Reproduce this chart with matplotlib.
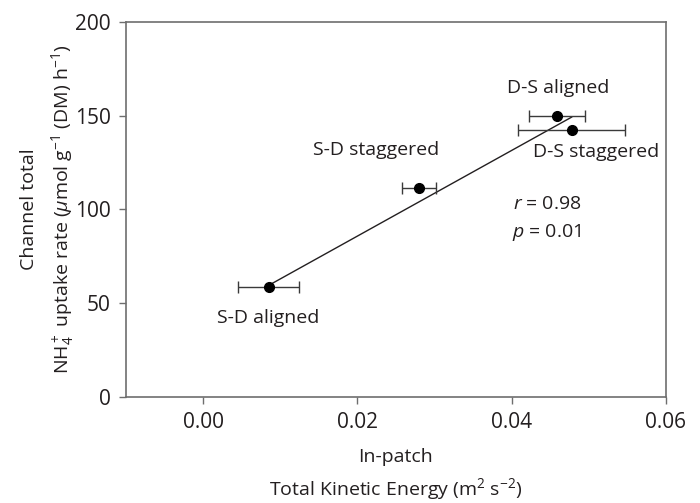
import matplotlib
matplotlib.use("Agg")
import matplotlib.pyplot as plt
import numpy as np

plt.rcParams['font.family'] = ['Open Sans', 'DejaVu Sans']
plt.rcParams['mathtext.fontset'] = 'custom'
plt.rcParams['mathtext.rm'] = 'Open Sans'
plt.rcParams['mathtext.it'] = 'Open Sans:italic'

# Data
labels = ["S-D aligned", "S-D staggered", "D-S aligned", "D-S staggered"]
tke = [0.0085, 0.0280, 0.0459, 0.0478]
tke_err = [0.0040, 0.0022, 0.0036, 0.0069]
uptake = [58.8, 111.5, 150.0, 142.3]

fit_x = [0.0085, 0.0478]
fit_y = [59.5, 149.3]

label_x = [0.0085, 0.0224, 0.0460, 0.0510]
label_y = [42.0, 131.5, 165.0, 130.7]

x_ticks = [0.00, 0.02, 0.04, 0.06]
x_ticklabels = ["0.00", "0.02", "0.04", "0.06"]
y_ticks = [0, 50, 100, 150, 200]

fig = plt.figure(figsize=(7.0, 5.03), dpi=100)
ax = fig.add_axes([0.18, 0.211, 0.771, 0.745])

spine_col = "#6e6e6e"
txt_col = "#231f20"
fs = 14

ax.plot(fit_x, fit_y, color="#231f20", lw=1.0, zorder=2)
ax.errorbar(tke, uptake, xerr=tke_err, fmt='o', color="black", ms=7,
            ecolor="#3a3a3a", elinewidth=1.0, capsize=4.5, capthick=1.0, zorder=3)

for lab, lx, ly in zip(labels, label_x, label_y):
    ax.text(lx, ly, lab, ha='center', va='center', fontsize=fs, color=txt_col)

ax.text(0.0447, 103, r"$r$ = 0.98", ha='center', va='center', fontsize=fs, color=txt_col)
ax.text(0.0446, 87.5, r"$p$ = 0.01", ha='center', va='center', fontsize=fs, color=txt_col)

ax.set_xlim(-0.01, 0.06)
ax.set_ylim(0, 200)
ax.set_xticks(x_ticks)
ax.set_xticklabels(x_ticklabels)
ax.set_yticks(y_ticks)

for s in ax.spines.values():
    s.set_color(spine_col)
    s.set_linewidth(1.2)

ax.tick_params(axis='both', which='both', direction='out', length=5, width=1.0,
               color=spine_col, labelsize=15, labelcolor=txt_col, pad=6,
               top=False, right=False)

ax.set_xlabel("In-patch\nTotal Kinetic Energy (m$^2$ s$^{-2}$)", fontsize=fs,
              color=txt_col, labelpad=11, linespacing=1.5)
ax.set_ylabel("Channel total\nNH$_4^+$ uptake rate ($\\mu$mol g$^{-1}$ (DM) h$^{-1}$)",
              fontsize=fs, color=txt_col, labelpad=-1, linespacing=1.6)

fig.savefig("out.png", dpi=100)
